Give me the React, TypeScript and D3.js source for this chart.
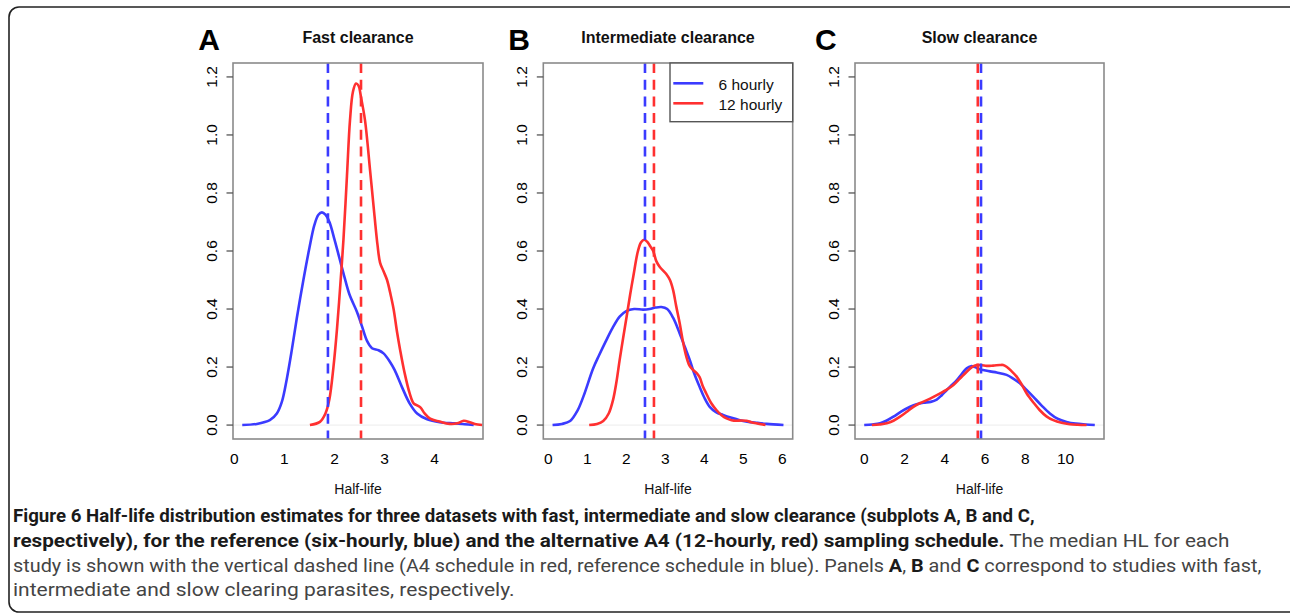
import React, { useLayoutEffect, useRef } from "react";
import * as d3 from "d3";

type Pt = [number, number];

// ---------- data ----------
const panelLetters = ["A", "B", "C"];
const panelTitles = ["Fast clearance", "Intermediate clearance", "Slow clearance"];
const seriesNames = ["6 hourly", "12 hourly"];
const xAxisLabel = "Half-life";

const blueA: Pt[] = [
  [0.16, 0], [0.45, 0.004], [0.71, 0.017], [0.85, 0.04], [0.95, 0.08], [1.05, 0.16], [1.15, 0.26],
  [1.25, 0.37], [1.38, 0.5], [1.5, 0.61], [1.6, 0.69], [1.68, 0.725], [1.75, 0.733], [1.82, 0.725],
  [1.9, 0.7], [2.0, 0.64], [2.1, 0.575], [2.2, 0.51], [2.3, 0.45], [2.45, 0.39], [2.55, 0.34],
  [2.65, 0.29], [2.75, 0.265], [2.88, 0.258], [2.98, 0.247], [3.1, 0.22], [3.2, 0.19], [3.35, 0.13],
  [3.5, 0.075], [3.65, 0.04], [3.85, 0.02], [4.1, 0.01], [4.4, 0.006], [4.6, 0.003], [4.78, 0],
];
const redA: Pt[] = [
  [1.51, 0], [1.71, 0.011], [1.82, 0.04], [1.9, 0.09], [1.98, 0.2], [2.05, 0.33], [2.12, 0.49],
  [2.18, 0.64], [2.25, 0.86], [2.31, 1.05], [2.37, 1.15], [2.43, 1.177], [2.48, 1.17], [2.53, 1.13],
  [2.61, 1.05], [2.71, 0.88], [2.8, 0.72], [2.86, 0.62], [2.91, 0.56], [2.98, 0.53], [3.05, 0.5],
  [3.12, 0.45], [3.18, 0.4], [3.25, 0.32], [3.31, 0.26], [3.4, 0.18], [3.5, 0.11], [3.58, 0.075],
  [3.65, 0.068], [3.72, 0.06], [3.8, 0.04], [3.91, 0.022], [4.1, 0.012], [4.3, 0.004], [4.45, 0.006],
  [4.58, 0.015], [4.7, 0.01], [4.8, 0.004], [4.95, 0],
];
const blueB: Pt[] = [
  [0.11, 0], [0.35, 0.004], [0.56, 0.014], [0.75, 0.05], [0.9, 0.098], [1.15, 0.195], [1.3, 0.24],
  [1.49, 0.293], [1.65, 0.335], [1.83, 0.374], [2.0, 0.393], [2.2, 0.4], [2.43, 0.398], [2.6, 0.4],
  [2.75, 0.405], [2.9, 0.407], [3.05, 0.4], [3.2, 0.37], [3.37, 0.316], [3.5, 0.27], [3.63, 0.224],
  [3.75, 0.175], [3.88, 0.132], [4.0, 0.095], [4.14, 0.063], [4.3, 0.045], [4.48, 0.035], [4.7, 0.025],
  [4.91, 0.017], [5.1, 0.012], [5.33, 0.008], [5.6, 0.004], [6.03, 0],
];
const redB: Pt[] = [
  [1.05, 0], [1.25, 0.004], [1.41, 0.014], [1.55, 0.04], [1.66, 0.086], [1.75, 0.15], [1.83, 0.224],
  [1.92, 0.3], [2.01, 0.374], [2.1, 0.45], [2.18, 0.512], [2.3, 0.6], [2.38, 0.63], [2.46, 0.639],
  [2.55, 0.63], [2.62, 0.615], [2.69, 0.6], [2.77, 0.565], [2.86, 0.545], [3.03, 0.52], [3.12, 0.5],
  [3.2, 0.466], [3.28, 0.41], [3.37, 0.351], [3.45, 0.29], [3.54, 0.236], [3.62, 0.205], [3.71, 0.19],
  [3.8, 0.18], [3.88, 0.165], [3.96, 0.135], [4.05, 0.109], [4.18, 0.075], [4.31, 0.052], [4.45, 0.033],
  [4.57, 0.023], [4.7, 0.017], [4.82, 0.015], [4.95, 0.016], [5.08, 0.015], [5.2, 0.01], [5.33, 0.006],
  [5.57, 0],
];
const blueC: Pt[] = [
  [0, 0], [0.4, 0.002], [0.79, 0.006], [1.1, 0.015], [1.45, 0.029], [1.85, 0.047], [2.28, 0.063],
  [2.6, 0.072], [2.94, 0.077], [3.3, 0.08], [3.6, 0.088], [3.85, 0.103], [4.1, 0.121], [4.35, 0.138],
  [4.6, 0.155], [4.85, 0.177], [5.09, 0.196], [5.3, 0.203], [5.5, 0.2], [5.7, 0.193], [5.91, 0.19],
  [6.25, 0.185], [6.58, 0.181], [7.07, 0.173], [7.4, 0.16], [7.73, 0.144], [8.05, 0.122], [8.39, 0.098],
  [8.8, 0.068], [9.22, 0.04], [9.6, 0.022], [10.05, 0.011], [10.5, 0.005], [11.0, 0.002], [11.45, 0],
];
const redC: Pt[] = [
  [0.38, 0], [0.75, 0.002], [1.12, 0.006], [1.45, 0.015], [1.78, 0.029], [2.1, 0.045], [2.44, 0.063],
  [2.78, 0.076], [3.11, 0.086], [3.44, 0.097], [3.77, 0.109], [4.1, 0.122], [4.43, 0.138], [4.75, 0.16],
  [5.09, 0.184], [5.35, 0.2], [5.59, 0.207], [5.85, 0.206], [6.08, 0.204], [6.4, 0.205], [6.74, 0.207],
  [6.9, 0.207], [7.07, 0.201], [7.3, 0.187], [7.57, 0.167], [7.82, 0.14], [8.07, 0.109], [8.4, 0.078],
  [8.71, 0.052], [9.05, 0.03], [9.39, 0.017], [9.8, 0.008], [10.21, 0.003], [10.6, 0.001], [11.04, 0],
];
const medianBlue = [1.87, 2.48, 5.8];
const medianRed = [2.53, 2.71, 5.64];
const xTicksA = [0, 1, 2, 3, 4];
const xTicksB = [0, 1, 2, 3, 4, 5, 6];
const xTicksC = [0, 2, 4, 6, 8, 10];
const yTicks = [0, 0.2, 0.4, 0.6, 0.8, 1.0, 1.2];
const yLimits: [number, number] = [0, 1.2];

type CapSeg = { t: string; b: boolean };
const captionLines: CapSeg[][] = [
  [{ t: "Figure 6 Half-life distribution estimates for three datasets with fast, intermediate and slow clearance (subplots A, B and C,", b: true }],
  [
    { t: "respectively), for the reference (six-hourly, blue) and the alternative A4 (12-hourly, red) sampling schedule.", b: true },
    { t: " The median HL for each", b: false },
  ],
  [
    { t: "study is shown with the vertical dashed line (A4 schedule in red, reference schedule in blue). Panels ", b: false },
    { t: "A", b: true },
    { t: ", ", b: false },
    { t: "B", b: true },
    { t: " and ", b: false },
    { t: "C", b: true },
    { t: " correspond to studies with fast,", b: false },
  ],
  [{ t: "intermediate and slow clearing parasites, respectively.", b: false }],
];

// ---------- layout ----------
const W = 1290;
const H = 615;
const BOX_LEFT = [233, 543.3, 855];
const BOX_RIGHT = [483, 792.7, 1104];
const BOX_TOP = 63;
const BOX_BOTTOM = 439;
const LETTER_X = [198.3, 508.3, 815];
const BLUE = "#3b3bff";
const RED = "#ff3030";
const FONT = "'Liberation Sans', Arial, Helvetica, sans-serif";
const CAP_FONT = "Roboto, 'Noto Sans', sans-serif";
const CAP_X = 13;
const CAP_ENDS = [1035, 1230, 1262, 515];
const CAP_BASE = [522, 547, 572, 596];

const panels = [
  { blue: blueA, red: redA, ticks: xTicksA },
  { blue: blueB, red: redB, ticks: xTicksB },
  { blue: blueC, red: redC, ticks: xTicksC },
];

function Panel({ i }: { i: number }) {
  const p = panels[i];
  const ext = d3.extent(p.blue, (d) => d[0]) as [number, number];
  const pad = (ext[1] - ext[0]) * 0.04;
  const x = d3.scaleLinear().domain([ext[0] - pad, ext[1] + pad]).range([BOX_LEFT[i], BOX_RIGHT[i]]);
  const ypad = (yLimits[1] - yLimits[0]) * 0.04;
  const y = d3.scaleLinear().domain([yLimits[0] - ypad, yLimits[1] + ypad]).range([BOX_BOTTOM, BOX_TOP]);
  const line = d3
    .line<Pt>()
    .x((d) => x(d[0]))
    .y((d) => Math.min(y(d[1]), y(0)))
    .curve(d3.curveCatmullRom.alpha(0.5));
  const left = BOX_LEFT[i];
  const right = BOX_RIGHT[i];
  const cx = (left + right) / 2;
  return (
    <g>
      <text x={LETTER_X[i]} y={50} fontFamily={FONT} fontWeight="bold" fontSize={30} fill="#000">
        {panelLetters[i]}
      </text>
      <text x={cx} y={43.3} textAnchor="middle" fontFamily={FONT} fontWeight="bold" fontSize={16} fill="#111">
        {panelTitles[i]}
      </text>
      <line x1={left} x2={right} y1={y(0)} y2={y(0)} stroke="#ececec" strokeWidth={1} />
      <path d={line(p.blue) || ""} fill="none" stroke={BLUE} strokeWidth={2.6} strokeLinejoin="round" />
      <path d={line(p.red) || ""} fill="none" stroke={RED} strokeWidth={2.6} strokeLinejoin="round" />
      <line x1={x(medianBlue[i])} x2={x(medianBlue[i])} y1={BOX_TOP} y2={BOX_BOTTOM} stroke={BLUE} strokeWidth={2.6} strokeDasharray="10,6.7" />
      <line x1={x(medianRed[i])} x2={x(medianRed[i])} y1={BOX_TOP} y2={BOX_BOTTOM} stroke={RED} strokeWidth={2.6} strokeDasharray="10,6.7" />
      <rect x={left} y={BOX_TOP} width={right - left} height={BOX_BOTTOM - BOX_TOP} fill="none" stroke="#8a8a8a" strokeWidth={1.6} />
      {yTicks.map((t) => (
        <g key={t}>
          <line x1={left - 6.5} x2={left} y1={y(t)} y2={y(t)} stroke="#555" strokeWidth={1.3} />
          <text
            transform={`translate(${left - 16},${y(t)}) rotate(-90)`}
            textAnchor="middle"
            fontFamily={FONT}
            fontSize={15.5}
            fill="#000"
          >
            {t.toFixed(1)}
          </text>
        </g>
      ))}
      {p.ticks.map((t) => (
        <text key={t} x={x(t)} y={463.5} textAnchor="middle" fontFamily={FONT} fontSize={15.5} fill="#000">
          {t}
        </text>
      ))}
      <text x={cx} y={494} textAnchor="middle" fontFamily={FONT} fontSize={14} fill="#111">
        {xAxisLabel}
      </text>
      {i === 1 && (
        <g>
          <rect x={670} y={BOX_TOP} width={right - 670} height={58.7} fill="#fff" stroke="#555" strokeWidth={1.4} />
          {[BLUE, RED].map((c, k) => (
            <g key={k}>
              <line x1={673.3} x2={703.3} y1={83.3 + k * 20} y2={83.3 + k * 20} stroke={c} strokeWidth={2.6} />
              <text x={718.5} y={89.5 + k * 20} fontFamily={FONT} fontSize={15.5} fill="#111">
                {seriesNames[k]}
              </text>
            </g>
          ))}
        </g>
      )}
    </g>
  );
}

export default function App() {
  const capRef = useRef<SVGGElement>(null);
  useLayoutEffect(() => {
    const g = capRef.current;
    if (!g) return;
    g.querySelectorAll("text").forEach((t, i) => {
      const w = (t as SVGTextElement).getComputedTextLength();
      const target = CAP_ENDS[i] - CAP_X;
      if (w > 0) t.setAttribute("transform", `translate(${CAP_X},${CAP_BASE[i]}) scale(${target / w},1)`);
    });
  }, []);
  return (
    <svg width={W} height={H} style={{ position: "absolute", left: 0, top: 0, background: "#fff" }}>
      <rect x={0} y={0} width={W} height={H} fill="#fff" />
      <rect x={9} y={7} width={1300} height={605} rx={10} fill="none" stroke="#222" strokeWidth={1.6} />
      {[0, 1, 2].map((i) => (
        <Panel key={i} i={i} />
      ))}
      <g ref={capRef}>
        {captionLines.map((segs, li) => (
          <text
            key={li}
            transform={`translate(${CAP_X},${CAP_BASE[li]})`}
            fontFamily={CAP_FONT}
            fontSize={19}
            style={{ whiteSpace: "pre" }}
          >
            {segs.map((s, k) => (
              <tspan key={k} fontWeight={s.b ? "bold" : "normal"} fill={s.b ? "#1a1a1a" : "#444"}>
                {s.t}
              </tspan>
            ))}
          </text>
        ))}
      </g>
    </svg>
  );
}
